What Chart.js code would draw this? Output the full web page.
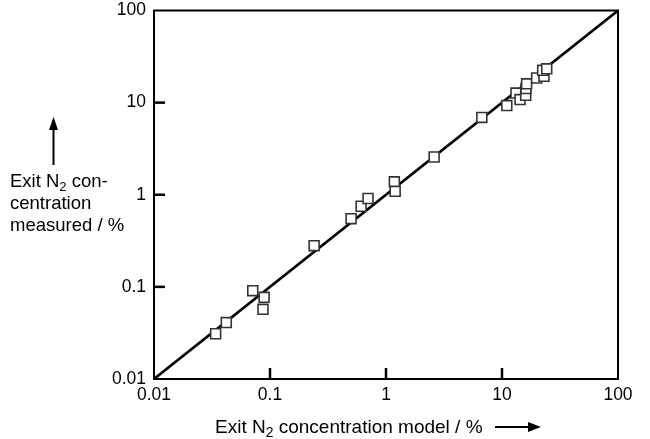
<!DOCTYPE html>
<html>
<head>
<meta charset="utf-8">
<script src="https://cdn.jsdelivr.net/npm/chart.js@4"></script>
<style>
html,body{margin:0;padding:0;background:#fff;}
#wrap{position:relative;width:650px;height:439px;}
</style>
</head>
<body>
<div id="wrap"><canvas id="c" width="650" height="439"></canvas></div>
<script>
// Data (log-log, %)
const modelValues = [0.034, 0.042, 0.071, 0.089, 0.087, 0.24, 0.50, 0.61, 0.70, 1.18, 1.20, 2.6, 6.7, 11, 13.2, 14.3, 16.0, 16.1, 16.3, 19.9, 23.0, 22.4, 24.3];
const measuredValues = [0.031, 0.041, 0.091, 0.077, 0.057, 0.28, 0.55, 0.75, 0.91, 1.38, 1.09, 2.57, 6.9, 9.3, 12.7, 10.8, 12.0, 14.2, 16.0, 18.5, 19.3, 22.4, 23.3];
const parityLineX = [0.01, 100];
const parityLineY = [0.01, 100];
const tickValues = [0.01, 0.1, 1, 10, 100];
const tickLabels = ["0.01", "0.1", "1", "10", "100"];
const xTitle = ["Exit N", "2", " concentration model / %"];
const yTitleLines = [["Exit N", "2", " con-"], ["centration"], ["measured / %"]];

const FONT = "'Liberation Sans', Arial, Helvetica, sans-serif";

function labelFor(v) {
  const i = tickValues.findIndex(t => Math.abs(Math.log10(t) - Math.log10(v)) < 1e-6);
  return i >= 0 ? tickLabels[i] : "";
}

function drawSubText(ctx, parts, x, y, size) {
  let cx = x;
  parts.forEach((p, i) => {
    const sub = (i === 1);
    ctx.font = (sub ? Math.round(size * 0.72) : size) + "px " + FONT;
    ctx.fillText(p, cx, sub ? y + 4 : y);
    cx += ctx.measureText(p).width;
  });
  return cx;
}

const framePlugin = {
  id: 'framePlugin',
  afterDraw(chart) {
    const ctx = chart.ctx;
    const a = chart.chartArea;
    const xs = chart.scales.x, ys = chart.scales.y;
    ctx.save();
    ctx.strokeStyle = '#000';
    ctx.lineWidth = 2;
    ctx.strokeRect(a.left, a.top, a.right - a.left, a.bottom - a.top);
    // inward tick marks
    ctx.lineWidth = 2.5;
    tickValues.forEach(v => {
      const px = xs.getPixelForValue(v);
      if (px > a.left + 1 && px < a.right - 1) {
        ctx.beginPath(); ctx.moveTo(px, a.bottom); ctx.lineTo(px, a.bottom - 11); ctx.stroke();
      }
      const py = ys.getPixelForValue(v);
      if (py > a.top + 1 && py < a.bottom - 1) {
        ctx.beginPath(); ctx.moveTo(a.left, py); ctx.lineTo(a.left + 11, py); ctx.stroke();
      }
    });
    // titles
    ctx.fillStyle = '#000';
    ctx.textBaseline = 'alphabetic';
    ctx.textAlign = 'left';
    drawSubText(ctx, xTitle, 215, 433, 19);
    // x arrow
    ctx.lineWidth = 2;
    ctx.beginPath(); ctx.moveTo(495, 427); ctx.lineTo(531, 427); ctx.stroke();
    ctx.beginPath(); ctx.moveTo(541, 427); ctx.lineTo(528, 422); ctx.lineTo(528, 432); ctx.closePath(); ctx.fill();
    // y title lines
    const baselines = [187, 209, 231];
    yTitleLines.forEach((parts, i) => {
      drawSubText(ctx, parts, 10, baselines[i], 18.5);
    });
    // y arrow
    ctx.beginPath(); ctx.moveTo(53.5, 165); ctx.lineTo(53.5, 128); ctx.stroke();
    ctx.beginPath(); ctx.moveTo(53.5, 117); ctx.lineTo(49, 130); ctx.lineTo(58, 130); ctx.closePath(); ctx.fill();
    ctx.restore();
  }
};

const scatterData = modelValues.map((x, i) => ({ x: x, y: measuredValues[i] }));
const lineData = parityLineX.map((x, i) => ({ x: x, y: parityLineY[i] }));

new Chart(document.getElementById('c'), {
  type: 'scatter',
  data: {
    datasets: [
      {
        label: 'measured vs model',
        data: scatterData,
        pointStyle: 'rect',
        pointRadius: 7,
        pointHoverRadius: 7,
        pointBackgroundColor: '#fff',
        pointBorderColor: '#333',
        pointBorderWidth: 1.6,
        showLine: false
      },
      {
        label: 'parity',
        type: 'line',
        data: lineData,
        borderColor: '#000',
        borderWidth: 2.6,
        pointRadius: 0,
        fill: false
      }
    ]
  },
  options: {
    responsive: false,
    animation: false,
    events: [],
    layout: { padding: { top: 10.5, right: 32, left: 0, bottom: 0 } },
    plugins: { legend: { display: false }, tooltip: { enabled: false }, title: { display: false } },
    scales: {
      x: {
        type: 'logarithmic',
        min: 0.01, max: 100,
        afterBuildTicks: s => { s.ticks = tickValues.map(v => ({ value: v })); },
        afterFit: s => { s.height = 60; s.paddingLeft = 0; s.paddingRight = 0; },
        grid: { display: false, drawTicks: false },
        border: { display: false },
        ticks: {
          autoSkip: false, maxRotation: 0, padding: 6, color: '#000',
          font: { family: FONT, size: 17.5 },
          callback: v => labelFor(v)
        }
      },
      y: {
        type: 'logarithmic',
        min: 0.01, max: 100,
        afterBuildTicks: s => { s.ticks = tickValues.map(v => ({ value: v })); },
        afterFit: s => { s.width = 154; s.paddingTop = 0; s.paddingBottom = 0; },
        grid: { display: false, drawTicks: false },
        border: { display: false },
        ticks: {
          autoSkip: false, padding: 8, color: '#000',
          font: { family: FONT, size: 17.5 },
          callback: v => labelFor(v)
        }
      }
    }
  },
  plugins: [framePlugin]
});
</script>
</body>
</html>
